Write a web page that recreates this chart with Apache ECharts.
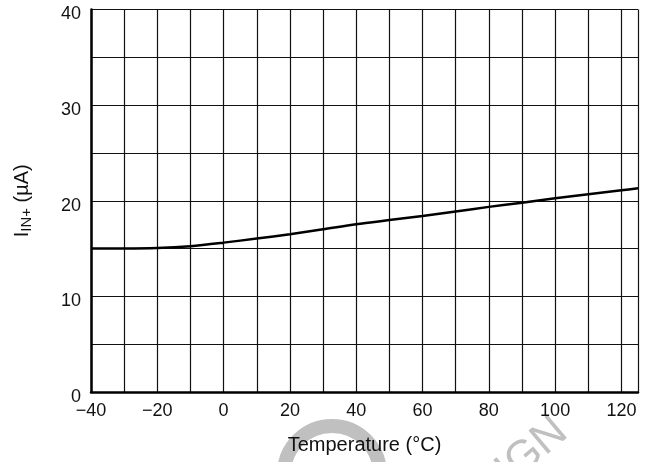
<!DOCTYPE html>
<html>
<head>
<meta charset="utf-8">
<script src="https://cdn.jsdelivr.net/npm/echarts@6/dist/echarts.min.js"></script>
<style>html,body{margin:0;padding:0;background:#fff;}#c{width:652px;height:462px;}</style>
</head>
<body>
<div id="c"></div>
<script>
const temperature = [-40, -30, -20, -10, 0, 10, 20, 30, 40, 50, 60, 70, 80, 90, 100, 110, 120, 125];
const currentIn = [15.0, 15.0, 15.05, 15.25, 15.62, 16.05, 16.5, 17.02, 17.55, 17.98, 18.4, 18.88, 19.36, 19.8, 20.26, 20.68, 21.1, 21.3];
const xTicks = [-40, -20, 0, 20, 40, 60, 80, 100, 120];
const yTicks = [0, 10, 20, 30, 40];

const chart = echarts.init(document.getElementById('c'), null, {renderer: 'canvas'});
const font = 'Liberation Sans, Arial, Helvetica, sans-serif';
chart.setOption({
  animation: false,
  backgroundColor: '#fff',
  graphic: [
    {type: 'circle', z: -10, silent: true, x: 0, y: 0,
     shape: {cx: 332, cy: 474, r: 48},
     style: {stroke: '#c0c0c0', lineWidth: 14, fill: 'none'}},
    {type: 'text', z: -10, silent: true, x: 576, y: 443, rotation: 0.7,
     style: {text: 'DESIGN', fill: '#c0c0c0', font: '44px ' + font, textAlign: 'right', textVerticalAlign: 'bottom'}}
  ],
  grid: {left: 91, right: 14, top: 9.5, bottom: 70, containLabel: false},
  xAxis: {
    type: 'value', min: -40, max: 125, interval: 10,
    name: 'Temperature (°C)', nameLocation: 'middle', nameGap: 43,
    nameTextStyle: {fontFamily: font, fontSize: 20, color: '#111'},
    axisLine: {show: true, onZero: false, lineStyle: {color: '#000', width: 2.5}},
    axisTick: {show: false},
    splitLine: {show: true, lineStyle: {color: '#111', width: 1.2}},
    axisLabel: {
      fontFamily: font, fontSize: 18, color: '#111', margin: 10,
      formatter: v => xTicks.includes(v) ? (v < 0 ? '\u2212' + Math.abs(v) : String(v)) : ''
    }
  },
  yAxis: {
    type: 'value', min: 0, max: 40, interval: 5,
    name: '{i|I}{s|IN+}{i| (µA)}', nameLocation: 'middle', nameGap: 57, nameRotate: 90,
    nameTextStyle: {
      fontFamily: font, fontSize: 20, color: '#111',
      rich: {
        i: {fontFamily: font, fontSize: 20, color: '#111'},
        s: {fontFamily: font, fontSize: 15, color: '#111', verticalAlign: 'bottom', padding: [9, 0, 0, 0]}
      }
    },
    axisLine: {show: true, onZero: false, lineStyle: {color: '#000', width: 2.5}},
    axisTick: {show: false},
    splitLine: {show: true, lineStyle: {color: '#111', width: 1.2}},
    axisLabel: {
      fontFamily: font, fontSize: 18, color: '#111', margin: 10,
      formatter: v => yTicks.includes(v) ? '{a|' + v + '}' : '',
      rich: {a: {fontFamily: font, fontSize: 18, color: '#111', padding: [10, 0, 0, 0]}}
    }
  },
  series: [{
    type: 'line', smooth: 0.3, symbol: 'none',
    data: temperature.map((t, i) => [t, currentIn[i]]),
    lineStyle: {color: '#000', width: 2.5}
  }]
});
</script>
</body>
</html>
